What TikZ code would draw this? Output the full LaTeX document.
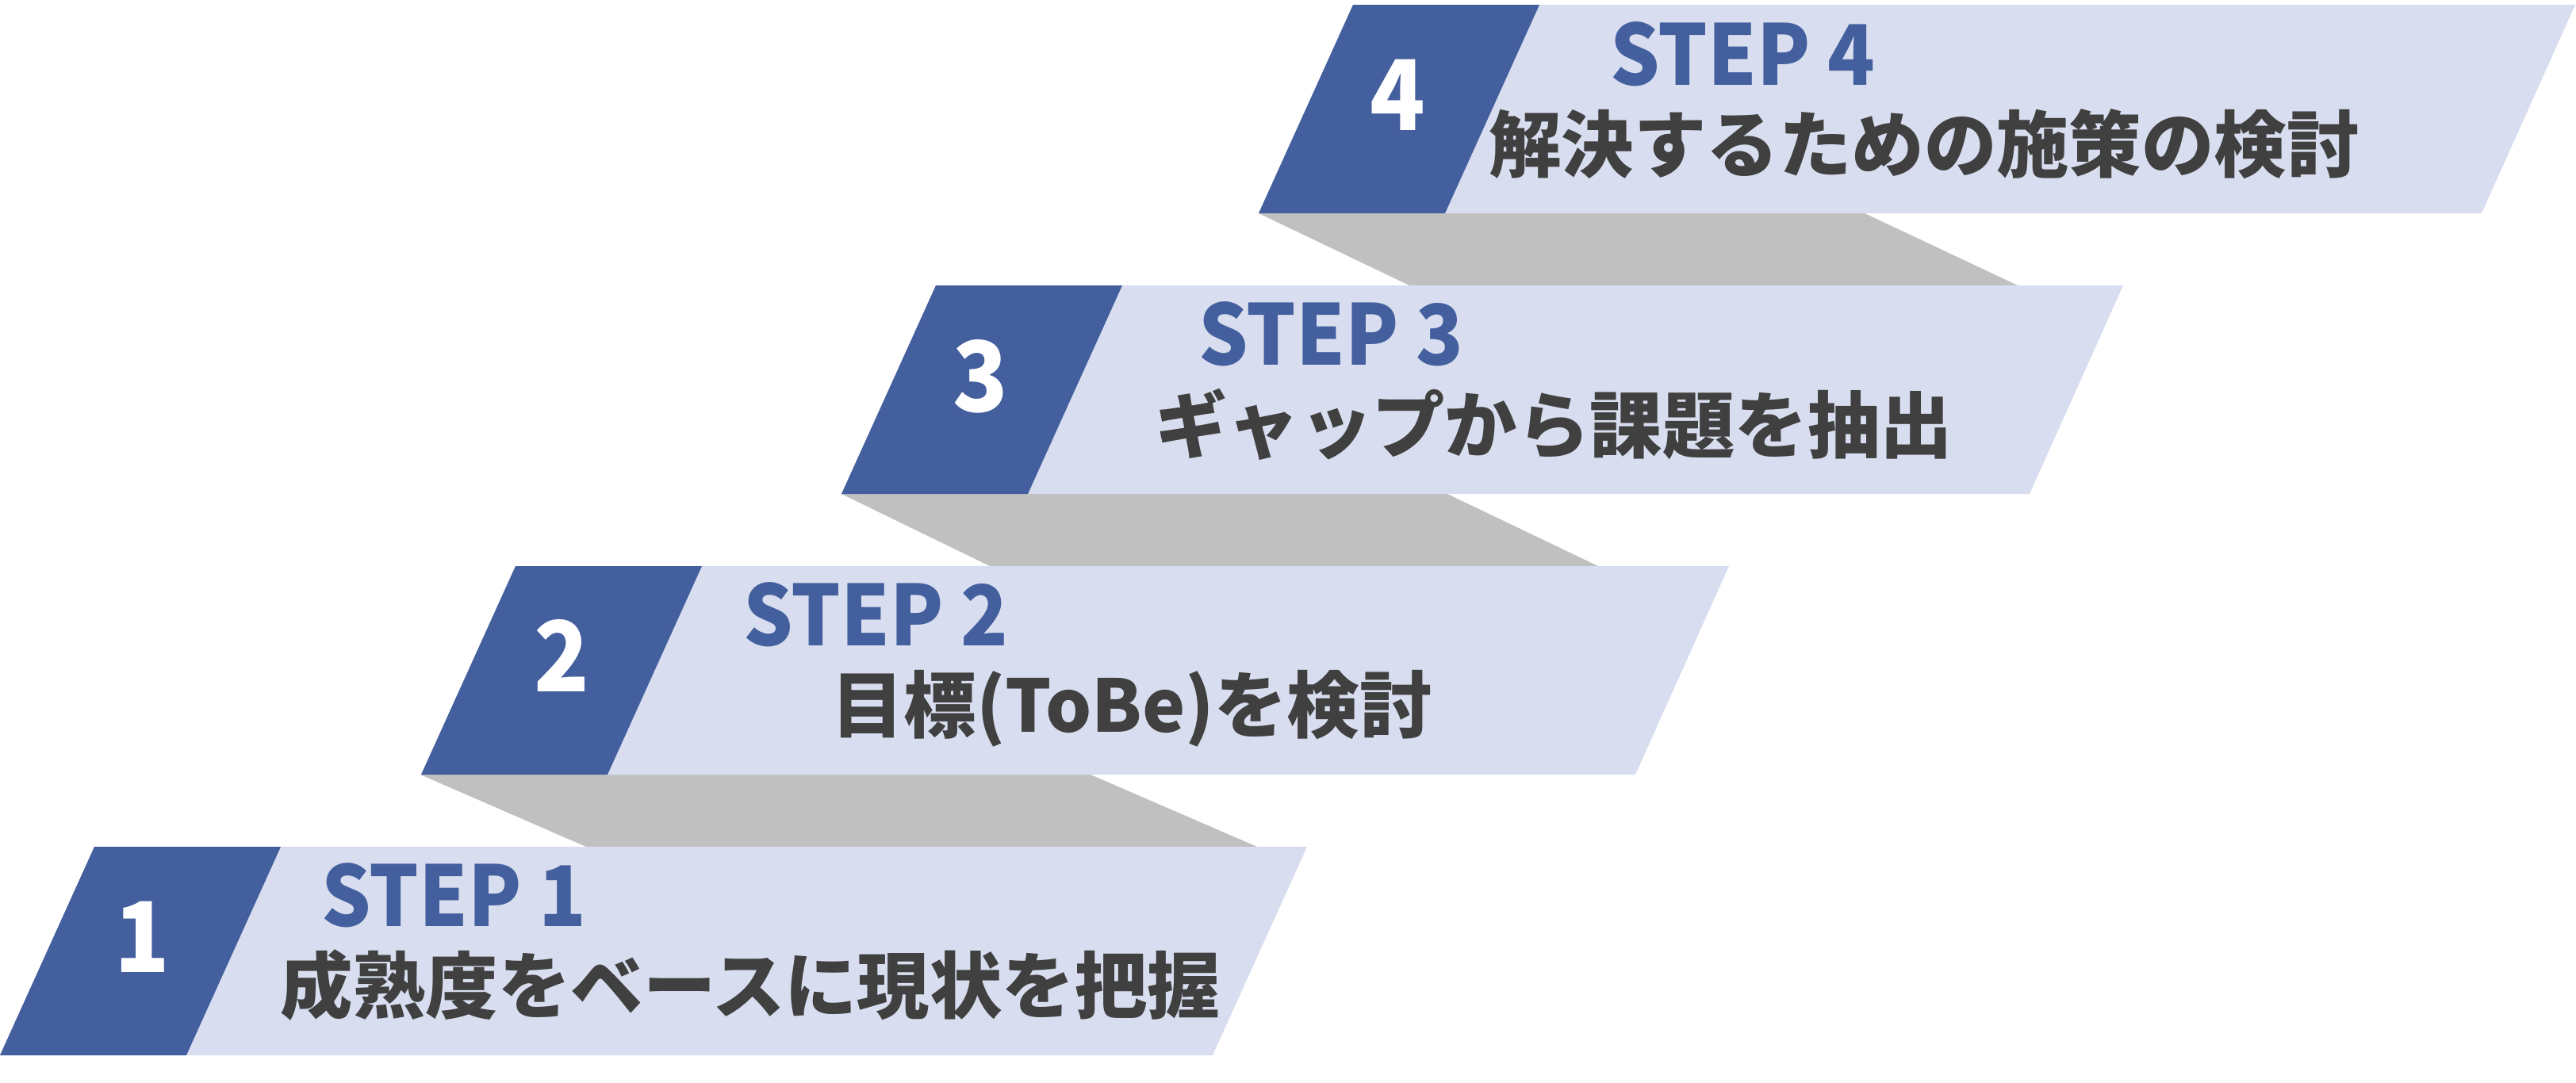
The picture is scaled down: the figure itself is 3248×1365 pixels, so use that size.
\documentclass[tikz,border=0pt]{standalone}
\usepackage{fontspec}
\newfontfamily\jpfont{Noto Sans CJK JP}
\newfontfamily\stepfont{Noto Sans CJK JP}[FakeStretch=0.93]
\usetikzlibrary{positioning}
\definecolor{stepblue}{RGB}{68,95,158}
\definecolor{steplight}{RGB}{216,222,239}
\definecolor{riser}{RGB}{192,192,192}
\definecolor{tasktext}{RGB}{64,64,64}

\begin{document}
\begin{tikzpicture}[x=0.01cm,y=-0.01cm,
	every node/.style={inner sep=0pt,outer sep=0pt},
	numlbl/.style={text=white,font=\stepfont\bfseries\fontsize{35}{35}\selectfont,anchor=base},
	steplbl/.style={text=stepblue,font=\stepfont\bfseries\fontsize{30}{30}\selectfont,anchor=base west},
	tasklbl/.style={text=tasktext,font=\jpfont\bfseries\fontsize{26}{26}\selectfont,anchor=base}]
	\useasboundingbox (0,0) rectangle (3248,1365);
	% Risers between the steps
	\fill[riser] (530,977) -- (1375,977) -- (1585,1068) -- (739,1068) -- cycle;
	\fill[riser] (1061,623) -- (1825,623) -- (2015,714) -- (1248,714) -- cycle;
	\fill[riser] (1587,269) -- (2351,269) -- (2544,360) -- (1777,360) -- cycle;
	% Step 1
	\fill[steplight] (0,1331) -- (1529,1331) -- ++(119,-263) -- (119,1068) -- cycle;
	\fill[stepblue] (0,1331) -- ++(235,0) -- ++(119,-263) -- ++(-235,0) -- cycle;
	\node[numlbl] (num1) at (179,1226) {1};
	\node[steplbl] (step1) at (405,1168) {STEP 1};
	\node[tasklbl] (task1) at (946,1277) {成熟度をベースに現状を把握};
	% Step 2
	\fill[steplight] (531,977) -- (2062,977) -- ++(118,-263) -- (650,714) -- cycle;
	\fill[stepblue] (531,977) -- ++(235,0) -- ++(119,-263) -- ++(-235,0) -- cycle;
	\node[numlbl] (num2) at (708,872) {2};
	\node[steplbl] (step2) at (937,814) {STEP 2};
	\node[tasklbl] (task2) at (1427,923) {目標(ToBe)を検討};
	% Step 3
	\fill[steplight] (1061,623) -- (2559,623) -- ++(118,-263) -- (1180,360) -- cycle;
	\fill[stepblue] (1061,623) -- ++(235,0) -- ++(119,-263) -- ++(-235,0) -- cycle;
	\node[numlbl] (num3) at (1236,519) {3};
	\node[steplbl] (step3) at (1511,460) {STEP 3};
	\node[tasklbl] (task3) at (1959,570) {ギャップから課題を抽出};
	% Step 4
	\fill[steplight] (1587,269) -- (3129,269) -- ++(118,-263) -- (1706,6) -- cycle;
	\fill[stepblue] (1587,269) -- ++(235,0) -- ++(119,-263) -- ++(-235,0) -- cycle;
	\node[numlbl] (num4) at (1762,164) {4};
	\node[steplbl] (step4) at (2030,107) {STEP 4};
	\node[tasklbl] (task4) at (2426,216) {解決するための施策の検討};
\end{tikzpicture}
\end{document}
